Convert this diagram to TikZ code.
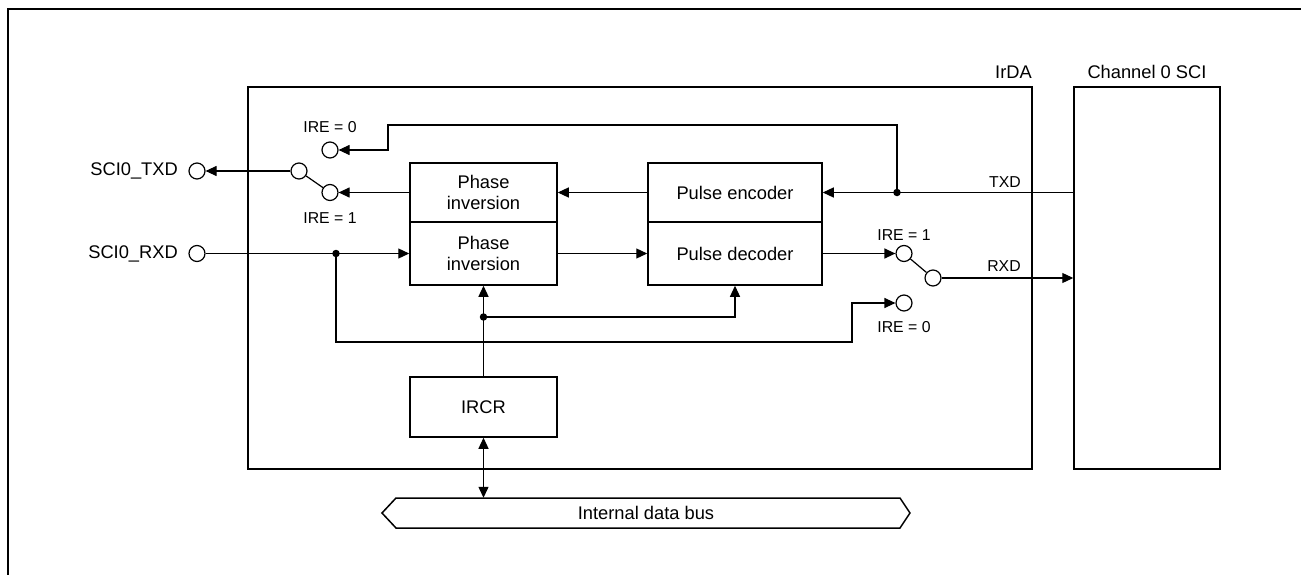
\documentclass[tikz,border=0pt]{standalone}
\usepackage{fontspec}
\setmainfont{Liberation Sans}
\usetikzlibrary{arrows.meta}
\begin{document}
\begin{tikzpicture}[x=1pt,y=-1pt,
  big/.style={font=\fontsize{18.3}{21}\selectfont},
  small/.style={font=\fontsize{15.8}{18}\selectfont},
  blk/.style={draw,line width=1.5pt,inner sep=0pt,align=center,big},
  pin/.style={draw,circle,line width=1.2pt,minimum size=16pt,inner sep=0pt},
  conn/.style={line width=1.2pt},
  arr/.style={conn,-{Triangle[length=11pt,width=10pt]}},
  dot/.style={fill,circle,inner sep=0pt,minimum size=7.5pt}
]
\useasboundingbox (0,0) rectangle (1301,575);
% outer frame (cropped)
\draw[line width=2.2pt] (8,575) -- (8,9) -- (1301,9);
% IrDA and SCI blocks
\node[draw,line width=1.5pt,minimum width=784pt,minimum height=382pt,inner sep=0pt] (irda) at (640,278) {};
\node[big,anchor=east,inner sep=0pt] (irdalbl) at (1032,72) {IrDA};
\node[draw,line width=1.5pt,minimum width=146pt,minimum height=382pt,inner sep=0pt] (chan) at (1147,278) {};
\node[big,inner sep=0pt] (chanlbl) at (1147,72) {Channel 0 SCI};
% function blocks
\node[blk,minimum width=147pt,minimum height=59pt] (phtop) at (483.5,192.5) {Phase\\inversion};
\node[blk,minimum width=147pt,minimum height=63pt] (phbot) at (483.5,253.5) {Phase\\inversion};
\node[blk,minimum width=174pt,minimum height=59pt] (penc) at (735,192.5) {Pulse encoder};
\node[blk,minimum width=174pt,minimum height=63pt] (pdec) at (735,253.5) {Pulse decoder};
\node[blk,minimum width=147pt,minimum height=60pt] (ircr) at (483.5,407) {IRCR};
% pins
\node[big,anchor=east,inner sep=0pt] (txdlbl) at (178,171) {SCI0\_TXD};
\node[pin] (txdpin) at (197,171) {};
\node[big,anchor=east,inner sep=0pt] (rxdlbl) at (178,253.5) {SCI0\_RXD};
\node[pin] (rxdpin) at (197,253.5) {};
% switch 1
\node[pin] (p1) at (299,171) {};
\node[pin] (c1) at (330,192.5) {};
\node[pin] (c0) at (330,150) {};
\node[small] (l10) at (330,127) {IRE = 0};
\node[small] (l11) at (330,218) {IRE = 1};
% switch 2
\node[pin] (c21) at (904,253.5) {};
\node[pin] (c20) at (904,303) {};
\node[pin] (p2) at (933,278) {};
\node[small] (l21) at (904,235) {IRE = 1};
\node[small] (l20) at (904,327) {IRE = 0};
% TXD / RXD labels
\node[small] (txdt) at (1005,182) {TXD};
\node[small] (rxdt) at (1004,266) {RXD};
% coordinates
\coordinate (j1) at (897,192.5);
\coordinate (fb) at (388,125);
\coordinate (j2) at (336,253.5);
\coordinate (bp) at (852,342);
\coordinate (j3) at (483.5,317);
% bus
\draw[line width=1.5pt] (382,513) -- (396,498) -- (900,498) -- (910,513) -- (900,528) -- (396,528) -- cycle;
\node[big,minimum width=528pt,minimum height=30pt,inner sep=0pt] (bus) at (646,513) {Internal data bus};
% connectors: transmit side
\draw[arr] (chan.west |- penc.east) -- (penc.east);
\draw[arr] (penc.west) -- (phtop.east);
\draw[arr] (phtop.west) -- (c1);
\draw[conn] (p1) -- (c1);
\draw[arr] (p1) -- (txdpin);
\draw[arr] (j1) -- (j1 |- fb) -- (fb) -- (fb |- c0) -- (c0);
\node[dot] at (j1) {};
% receive side
\draw[arr] (rxdpin) -- (phbot.west |- rxdpin);
\draw[arr] (phbot.east) -- (pdec.west);
\draw[arr] (pdec.east) -- (c21);
\draw[conn] (c21) -- (p2);
\draw[arr] (p2) -- (chan.west |- p2);
\draw[arr] (j2) |- (bp) |- (c20);
\node[dot] at (j2) {};
% control
\draw[arr] (ircr) -- (phbot);
\draw[arr] (j3) -| (pdec);
\node[dot] at (j3) {};
\draw[conn,{Triangle[length=11pt,width=10pt]}-{Triangle[length=11pt,width=10pt]}] (ircr.south) -- (ircr.south |- bus.north);
\end{tikzpicture}
\end{document}
